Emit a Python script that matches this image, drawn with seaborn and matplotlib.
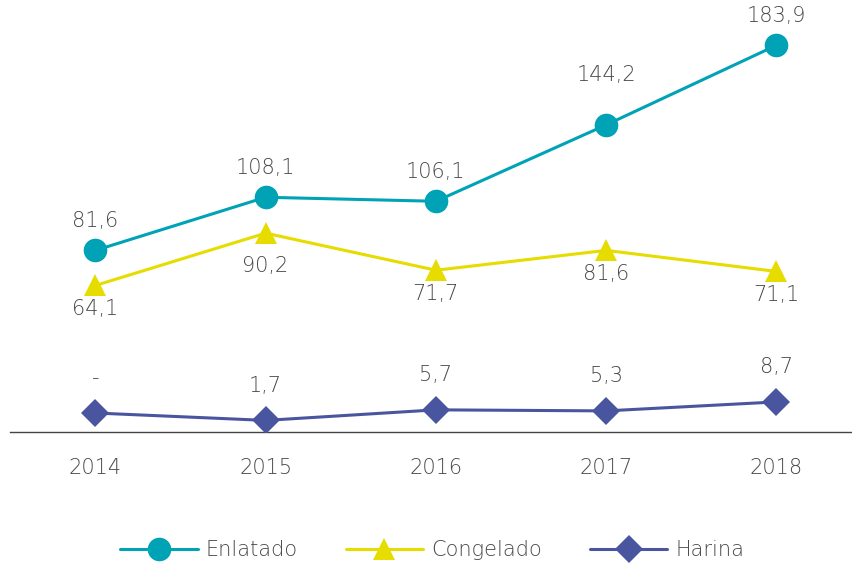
import matplotlib
matplotlib.use('Agg')
import matplotlib.pyplot as plt
import seaborn as sns
import pandas as pd

years = [2014, 2015, 2016, 2017, 2018]
enlatado = [81.6, 108.1, 106.1, 144.2, 183.9]
congelado = [64.1, 90.2, 71.7, 81.6, 71.1]
# 2014 has no figure ("-"); marker position
harina = [4.5, 1.7, 5.7, 5.3, 8.7]
harina_labels = ['-', '1,7', '5,7', '5,3', '8,7']

C_ENL = '#00A3B5'
C_CON = '#E6DC00'
C_HAR = '#4A55A0'
TXT = '#484848'

sns.set_theme(style='white')
plt.rcParams['font.family'] = ['DejaVu Sans']
plt.rcParams['font.weight'] = 'light'

df = pd.DataFrame({'Año': years, 'Enlatado': enlatado,
                   'Congelado': congelado, 'Harina': harina})

fig = plt.figure(figsize=(8.53, 5.64), dpi=100)
ax = fig.add_axes([0.012, 0.234, 0.988, 0.766])
ax2 = ax.twinx()

sns.lineplot(data=df, x='Año', y='Enlatado', ax=ax, color=C_ENL, lw=2.2,
             marker='o', markersize=17, markeredgewidth=0, label='Enlatado', legend=False)
sns.lineplot(data=df, x='Año', y='Congelado', ax=ax, color=C_CON, lw=2.2,
             marker='^', markersize=16, markeredgewidth=0, label='Congelado', legend=False)
sns.lineplot(data=df, x='Año', y='Harina', ax=ax2, color=C_HAR, lw=2.2,
             marker='D', markersize=14, markeredgewidth=0, label='Harina', legend=False)

ax.set_ylim(-9, 206.5)
ax2.set_ylim(-2.7, 160.9)
ax.set_xlim(2013.5, 2018.45)

def fmt(v):
    return f'{v:.1f}'.replace('.', ',')

for i, (x, v) in enumerate(zip(years, enlatado)):
    dy = 36 if i == 3 else 21
    ax.annotate(fmt(v), (x, v), xytext=(0, dy), textcoords='offset points',
                ha='center', va='center', fontsize=15, color=TXT)
for i, (x, v) in enumerate(zip(years, congelado)):
    dy = -24 if i == 1 else -17
    ax.annotate(fmt(v), (x, v), xytext=(0, dy), textcoords='offset points',
                ha='center', va='center', fontsize=15, color=TXT)
for x, v, lab in zip(years, harina, harina_labels):
    ax2.annotate(lab, (x, v), xytext=(0, 25), textcoords='offset points',
                 ha='center', va='center', fontsize=15, color=TXT)

for a in (ax, ax2):
    for s in a.spines.values():
        s.set_visible(False)
    a.set_ylabel('')
    a.set_yticks([])
ax.spines['bottom'].set_visible(True)
ax.spines['bottom'].set_color('#444444')
ax.spines['bottom'].set_linewidth(1.0)
ax.set_xlabel('')
ax.set_xticks(years)
ax.set_xticklabels([str(y) for y in years], fontsize=15, color=TXT)
ax.tick_params(axis='x', length=0, pad=19)

h1, l1 = ax.get_legend_handles_labels()
h2, l2 = ax2.get_legend_handles_labels()
fig.legend(h1 + h2, l1 + l2, loc='center', bbox_to_anchor=(0.507, 0.025), ncol=3,
           frameon=False, fontsize=15, labelcolor=TXT, handlelength=3.7,
           handletextpad=0.4, columnspacing=2.3)

fig.savefig('out.png', dpi=100)
plt.close(fig)
